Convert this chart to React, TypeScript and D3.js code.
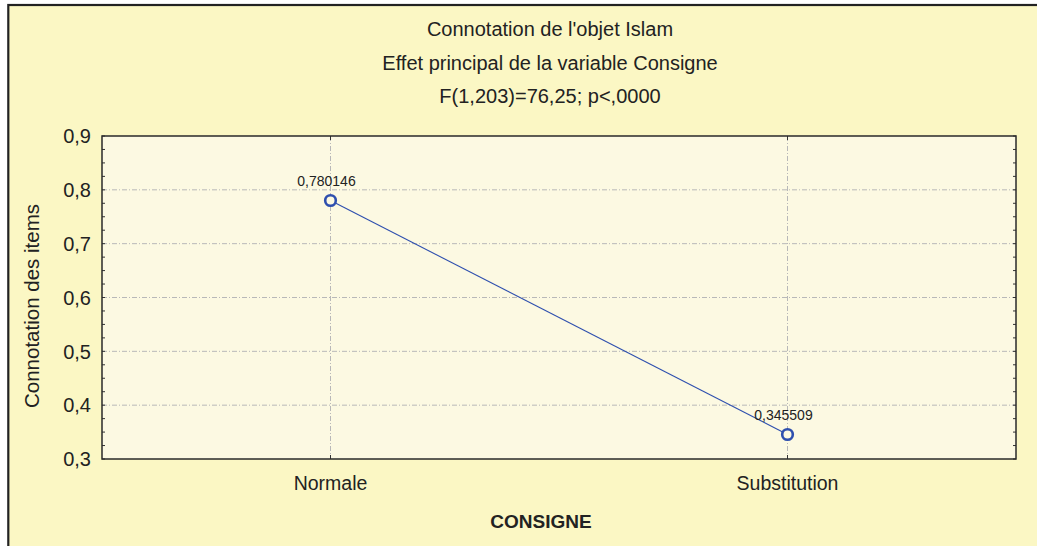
import React from "react";
import * as d3 from "d3";

const categories = ["Normale", "Substitution"];
const values = [0.780146, 0.345509];
const valueLabels = ["0,780146", "0,345509"];
const yTicks = [0.3, 0.4, 0.5, 0.6, 0.7, 0.8, 0.9];
const yTickLabels = ["0,3", "0,4", "0,5", "0,6", "0,7", "0,8", "0,9"];
const titleLines = [
  "Connotation de l'objet Islam",
  "Effet principal de la variable Consigne",
  "F(1,203)=76,25; p<,0000",
];
const yTitle = "Connotation des items";
const xTitle = "CONSIGNE";

const W = 1037;
const H = 546;
const plot = { left: 102, top: 136, right: 1016, bottom: 459 };
const FONT = "'Liberation Sans', Arial, sans-serif";
const OUTER = "#FBF7C4";
const INNER = "#FCF9E2";
const BLUE = "#2E4FAE";

export default function App() {
  const x = d3
    .scalePoint<string>()
    .domain(categories)
    .range([plot.left, plot.right])
    .padding(0.5);
  const y = d3.scaleLinear().domain([0.3, 0.9]).range([plot.bottom, plot.top]);
  const minor = d3.range(0.3, 0.9001, 0.025);
  const line = d3
    .line<number>()
    .x((_, i) => x(categories[i]) as number)
    .y((d) => y(d));

  return (
    <svg
      width={W}
      height={H}
      style={{ position: "absolute", left: 0, top: 0, display: "block" }}
      fontFamily={FONT}
    >
      <rect x={0} y={0} width={W} height={H} fill="#ffffff" />
      <rect x={8.3} y={5} width={W + 50} height={H + 50} fill={OUTER} stroke="#222" strokeWidth={2.2} />
      {titleLines.map((t, i) => (
        <text key={i} x={550} y={36 + i * 33.5} textAnchor="middle" fontSize={20} fill="#222">
          {t}
        </text>
      ))}
      <rect
        x={plot.left}
        y={plot.top}
        width={plot.right - plot.left}
        height={plot.bottom - plot.top}
        fill={INNER}
      />
      {yTicks.slice(1, -1).map((t) => (
        <line
          key={"g" + t}
          x1={plot.left}
          x2={plot.right}
          y1={y(t)}
          y2={y(t)}
          stroke="#B8B8B8"
          strokeWidth={1}
          strokeDasharray="5,2,1,2"
        />
      ))}
      {categories.map((c) => (
        <line
          key={"v" + c}
          x1={x(c)}
          x2={x(c)}
          y1={plot.top}
          y2={plot.bottom}
          stroke="#B8B8B8"
          strokeWidth={1}
          strokeDasharray="5,2,1,2"
        />
      ))}
      {minor.map((t, i) => (
        <g key={"m" + i}>
          <line x1={plot.left} x2={plot.left + 3} y1={y(t)} y2={y(t)} stroke="#333" strokeWidth={1} />
          <line x1={plot.right - 3} x2={plot.right} y1={y(t)} y2={y(t)} stroke="#333" strokeWidth={1} />
        </g>
      ))}
      {categories.map((c) => (
        <g key={"xt" + c}>
          <line x1={x(c)} x2={x(c)} y1={plot.bottom} y2={plot.bottom - 4} stroke="#333" strokeWidth={1} />
          <line x1={x(c)} x2={x(c)} y1={plot.top} y2={plot.top + 4} stroke="#333" strokeWidth={1} />
        </g>
      ))}
      <rect
        x={plot.left}
        y={plot.top}
        width={plot.right - plot.left}
        height={plot.bottom - plot.top}
        fill="none"
        stroke="#2a2a2a"
        strokeWidth={1.5}
      />
      {yTicks.map((t, i) => (
        <text
          key={"yl" + t}
          x={91}
          y={y(t)}
          dy="0.36em"
          textAnchor="end"
          fontSize={20}
          fill="#222"
        >
          {yTickLabels[i]}
        </text>
      ))}
      {categories.map((c) => (
        <text key={"xl" + c} x={x(c)} y={490} textAnchor="middle" fontSize={19.5} fill="#222">
          {c}
        </text>
      ))}
      <text
        transform={`translate(39,306) rotate(-90)`}
        textAnchor="middle"
        fontSize={20.5}
        fill="#222"
      >
        {yTitle}
      </text>
      <text x={541} y={528} textAnchor="middle" fontSize={19} fontWeight="bold" fill="#222">
        {xTitle}
      </text>
      <path d={line(values) || ""} fill="none" stroke={BLUE} strokeWidth={1.1} />
      {values.map((v, i) => (
        <g key={"p" + i}>
          <circle cx={x(categories[i])} cy={y(v)} r={5.3} fill={INNER} stroke={BLUE} strokeWidth={2.6} />
          <text
            x={(x(categories[i]) as number) - 4}
            y={y(v) - 14.5}
            textAnchor="middle"
            fontSize={14}
            fill="#222"
          >
            {valueLabels[i]}
          </text>
        </g>
      ))}
    </svg>
  );
}
